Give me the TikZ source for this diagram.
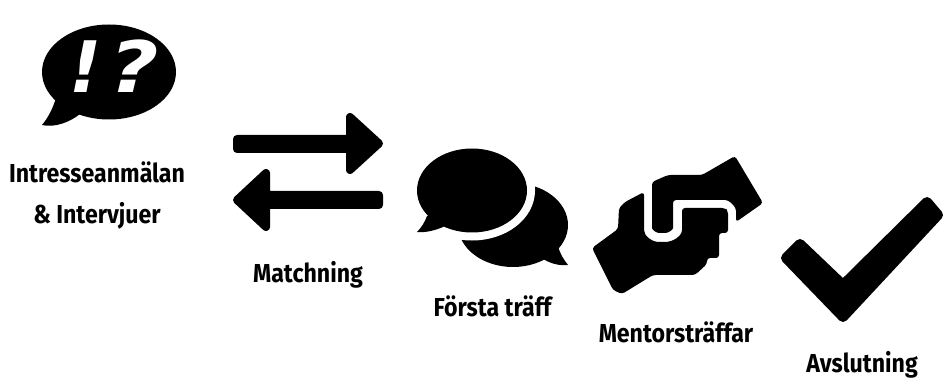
\documentclass[tikz,border=0pt]{standalone}
\usepackage{fontspec}
\setmainfont[FakeStretch=0.89]{Fira Sans}
\newfontfamily\markfont{DejaVu Sans}
\newfontfamily\quesfont[FakeStretch=1.2]{DejaVu Sans}
\usepackage{tikz}
\begin{document}
\begin{tikzpicture}[x=1pt, y=-1pt, every node/.style={font=\fontsize{26}{26}\selectfont\bfseries, inner sep=0pt, anchor=base},
  icon/.style={fill=black, rounded corners=3pt},
  softicon/.style={fill=black, draw=black, line width=8pt, line join=round},
  gap/.style={draw=white, line width=16pt},
  marktext/.style={font=\fontsize{71}{71}\selectfont\bfseries\itshape, text=white}]
\useasboundingbox (0,0) rectangle (943,379);
% anmalan
\fill (109,72) ellipse [x radius=67, y radius=47.5];
\fill (56,98) .. controls (53,108) and (48,118) .. (42,125) .. controls (55,128) and (70,122) .. (80,114) -- (95,105) -- cycle;
\node[marktext] (excl) at (86,93) {\markfont !};
\node[marktext] (ques) at (134,93) {\quesfont ?};
\node (anmalan) at (97,183) {Intresseanmälan};
\node (intervju) at (97,224) {\& Intervjuer};
% matchning
\draw[softicon] (237,139) -- (350,139) -- (350,117) -- (379,143.5) -- (350,170) -- (350,149) -- (237,149) -- cycle;
\draw[softicon] (379,195) -- (266,195) -- (266,173) -- (237,200) -- (266,227) -- (266,205) -- (379,205) -- cycle;
\node (matchning) at (308,283) {Matchning};
% traff
\fill (513,225) ellipse [x radius=55, y radius=42];
\fill (558,246) .. controls (560,254) and (564,260) .. (568,265) .. controls (558,266) and (550,263) .. (543,259) -- (530,250) -- cycle;
\path[gap] (472,190.5) ellipse [x radius=55, y radius=42];
\fill (472,190.5) ellipse [x radius=55, y radius=42];
\fill (427,216) .. controls (425,222) and (421,228) .. (417,232) .. controls (426,233) and (436,230) .. (443,227) -- (455,215) -- cycle;
\node (forsta) at (492.5,317) {Första träff};
% mentor
\fill[icon] (592,248) -- (618,229) -- (619,208) -- (625,202) -- (644,192) -- (644,227) .. controls (644,236) and (652,242) .. (662,242) .. controls (673,242) and (682,236) .. (682,227) -- (682,208) -- (725,208) -- (728,211) -- (728,233) -- (719,233) -- (719,258) -- (707,258) -- (707,264) -- (695,275) -- (653,275) -- (622,294) -- (613,290) -- cycle;
\fill[icon] (652,190) -- (652,182) -- (668,175) -- (702,175) -- (735,156) -- (763,203) -- (736,222) -- (736,208) -- (728,200) -- (673,200) -- (673,225) .. controls (673,230) and (668,233) .. (662,233) .. controls (657,233) and (652,230) .. (652,225) -- cycle;
\node (mentor) at (676,343) {Mentorsträffar};
% avslut
\draw[softicon, line width=10pt] (786,258) -- (800,244) -- (843,285) -- (927,202) -- (938,215) -- (843,317) -- cycle;
\node (avslut) at (862,373) {Avslutning};
\end{tikzpicture}
\end{document}
